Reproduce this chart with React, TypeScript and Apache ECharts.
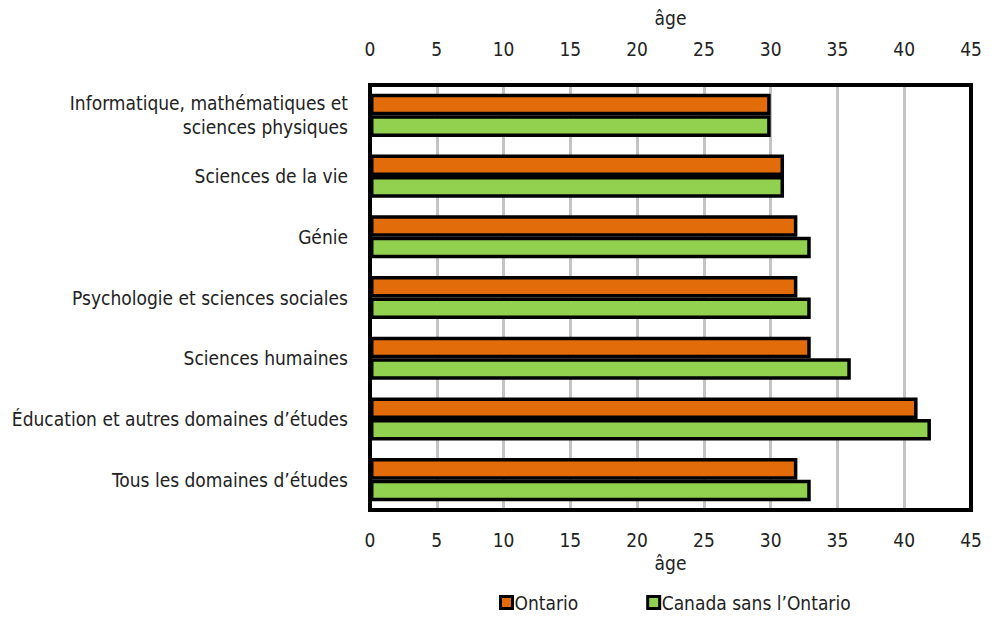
import React, { useEffect, useRef } from "react";
import * as echarts from "echarts";

const categories = [
  "Informatique, mathématiques et\nsciences physiques",
  "Sciences de la vie",
  "Génie",
  "Psychologie et sciences sociales",
  "Sciences humaines",
  "Éducation et autres domaines d’études",
  "Tous les domaines d’études",
];
const ontario = [30, 31, 32, 32, 33, 41, 32];
const canadaSansOntario = [30, 31, 33, 33, 36, 42, 33];
const seriesNames = ["Ontario", "Canada sans l’Ontario"];
const axisMin = 0;
const axisMax = 45;
const axisInterval = 5;

const FONT = "'Liberation Sans Narrow', 'DejaVu Sans Condensed', 'Roboto', sans-serif";

const GRID = { left: 370, right: 27, top: 85, bottom: 111 };
const W = 998;
const H = 621;

export default function App() {
  const ref = useRef<HTMLDivElement>(null);
  useEffect(() => {
    document.body.style.margin = "0";
    if (!ref.current) return;
    const chart = echarts.init(ref.current, undefined, { renderer: "svg" });
    const axisLabel = { fontFamily: FONT, fontSize: 19, color: "#222" };
    chart.setOption({
      animation: false,
      textStyle: { fontFamily: FONT },
      grid: { ...GRID, show: false },
      graphic: [
        {
          type: "rect",
          z: 100,
          silent: true,
          shape: {
            x: GRID.left,
            y: GRID.top,
            width: W - GRID.left - GRID.right,
            height: H - GRID.top - GRID.bottom,
          },
          style: { fill: "none", stroke: "#000", lineWidth: 4 },
        },
      ],
      legend: {
        bottom: 4,
        left: 494,
        icon: "rect",
        itemWidth: 12,
        itemHeight: 12,
        itemGap: 68,
        itemStyle: { borderColor: "#000", borderWidth: 3 },
        textStyle: { fontFamily: FONT, fontSize: 19, color: "#222", padding: [0, 0, 0, -3] },
        data: seriesNames,
      },
      xAxis: [
        {
          type: "value",
          position: "bottom",
          min: axisMin,
          max: axisMax,
          interval: axisInterval,
          name: "âge",
          nameLocation: "middle",
          nameGap: 40,
          nameTextStyle: { ...axisLabel },
          axisLine: { show: false },
          axisTick: { show: false },
          axisLabel: { ...axisLabel, margin: 20 },
          splitLine: { show: true, lineStyle: { color: "#c4c4c4", width: 3 } },
        },
        {
          type: "value",
          position: "top",
          min: axisMin,
          max: axisMax,
          interval: axisInterval,
          name: "âge",
          nameLocation: "middle",
          nameGap: 58,
          nameTextStyle: { ...axisLabel },
          axisLine: { show: false },
          axisTick: { show: false },
          axisLabel: { ...axisLabel, margin: 27 },
          splitLine: { show: false },
        },
      ],
      yAxis: {
        type: "category",
        inverse: true,
        data: categories,
        axisLine: { show: false },
        axisTick: { show: false },
        axisLabel: { ...axisLabel, margin: 22, lineHeight: 24, align: "right" },
      },
      series: [
        {
          name: seriesNames[0],
          type: "bar",
          xAxisIndex: 0,
          data: ontario,
          barGap: "0%",
          barCategoryGap: "29%",
          itemStyle: { color: "#E36C0A", borderColor: "#000", borderWidth: 3.5 },
        },
        {
          name: seriesNames[1],
          type: "bar",
          xAxisIndex: 0,
          data: canadaSansOntario,
          barGap: "0%",
          barCategoryGap: "29%",
          itemStyle: { color: "#92D050", borderColor: "#000", borderWidth: 3.5 },
        },
      ],
    });
    return () => chart.dispose();
  }, []);
  return <div ref={ref} style={{ width: W, height: H }} />;
}
